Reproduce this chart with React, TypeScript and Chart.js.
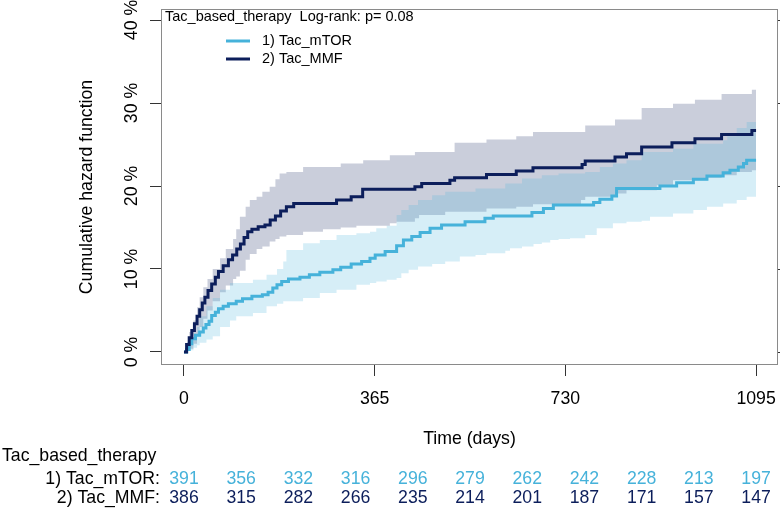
import React, { useEffect, useRef } from 'react';
import { Chart, registerables } from 'chart.js';

Chart.register(...registerables);

const FONT = '"Liberation Sans", Arial, Helvetica, sans-serif';
const MTOR_COLOR = '#46B2DA';
const MMF_COLOR = '#0C1E5B';
const MTOR_BAND = 'rgba(70,178,218,0.22)';
const MMF_BAND = 'rgba(12,30,91,0.22)';

// ---- axis ticks / labels ----
const xTickValues = [0, 365, 730, 1095];
const yTickValues = [0, 10, 20, 30, 40];
const legendTitle = 'Tac_based_therapy  Log-rank: p= 0.08';
const groupLabels = ['1) Tac_mTOR', '2) Tac_MMF'];
const strataTitle = 'Tac_based_therapy';

// ---- number at risk ----
const riskTimes = [0, 109.5, 219, 328.5, 438, 547.5, 657, 766.5, 876, 985.5, 1095];
const riskMtor = [391, 356, 332, 316, 296, 279, 262, 242, 228, 213, 197];
const riskMmf = [386, 315, 282, 266, 235, 214, 201, 187, 171, 157, 147];

// ---- 1) Tac_mTOR cumulative hazard (%) ----
const mtorTimes = [0, 5, 10, 15, 22, 30, 37, 42, 48, 53, 60, 66, 75, 85, 100, 112, 130, 150, 161, 170, 178, 187, 200, 222, 240, 260, 285, 300, 320, 340, 356, 366, 385, 407, 420, 436, 452, 471, 493, 538, 576, 592, 666, 688, 707, 784, 796, 819, 828, 911, 943, 975, 1001, 1032, 1045, 1061, 1071, 1077, 1095];
const mtorHazard = [0, 0.3, 1.0, 1.6, 2.0, 2.4, 2.9, 3.3, 3.7, 4.4, 4.8, 5.2, 5.5, 5.8, 6.1, 6.4, 6.7, 6.9, 7.2, 7.7, 8.1, 8.5, 8.8, 9.0, 9.3, 9.6, 9.9, 10.2, 10.6, 10.9, 11.3, 11.7, 12.1, 12.8, 13.5, 13.9, 14.4, 14.9, 15.3, 15.7, 16.1, 16.4, 16.8, 17.3, 17.7, 18.0, 18.4, 18.8, 19.7, 20.0, 20.4, 20.8, 21.2, 21.6, 21.9, 22.3, 22.7, 23.1, 23.1];
const mtorBandTimes = [0, 10, 18, 25, 30, 43, 55, 69, 88, 100, 132, 158, 178, 190, 196, 228, 260, 292, 330, 356, 368, 388, 407, 416, 430, 448, 475, 500, 528, 558, 579, 615, 624, 647, 669, 685, 701, 717, 739, 768, 790, 796, 821, 847, 876, 892, 936, 975, 1001, 1032, 1040, 1058, 1077, 1095];
const mtorUpper = [0, 1.0, 1.8, 3.0, 4.3, 5.5, 6.5, 7.5, 8.3, 8.3, 8.7, 9.3, 10.0, 10.9, 12.3, 13.1, 13.5, 14.1, 14.3, 14.5, 14.9, 15.2, 16.5, 17.1, 17.7, 18.3, 18.9, 19.3, 19.3, 19.7, 19.7, 20.3, 20.3, 20.9, 20.9, 21.3, 21.3, 21.5, 21.5, 21.7, 21.7, 22.3, 22.7, 23.1, 24.1, 24.1, 24.5, 25.1, 25.1, 25.5, 26.0, 27.0, 27.7, 27.7];
const mtorLower = [0, 0.2, 0.5, 0.8, 1.1, 1.5, 1.9, 3.0, 3.8, 4.3, 4.7, 5.5, 5.8, 6.1, 6.1, 6.5, 7.1, 7.5, 8.1, 8.3, 8.5, 8.7, 8.9, 9.5, 9.9, 10.3, 10.6, 10.9, 11.5, 11.7, 11.9, 12.2, 12.5, 12.7, 13.0, 13.2, 13.5, 13.6, 13.7, 14.1, 14.9, 14.9, 15.5, 15.7, 15.8, 16.3, 16.7, 17.1, 17.5, 17.9, 17.9, 18.3, 18.7, 18.7];

// ---- 2) Tac_MMF cumulative hazard (%) ----
const mmfTimes = [0, 5, 10, 15, 20, 25, 30, 35, 40, 46, 53, 60, 66, 75, 85, 93, 101, 108, 115, 122, 130, 142, 155, 165, 175, 185, 196, 210, 292, 320, 342, 442, 455, 509, 518, 579, 636, 668, 762, 768, 825, 847, 876, 934, 978, 1029, 1087, 1095];
const mmfHazard = [0, 0.9, 1.7, 2.6, 3.4, 4.3, 5.1, 5.9, 6.6, 7.4, 8.2, 9.0, 9.7, 10.4, 11.1, 11.7, 12.4, 13.0, 13.8, 14.5, 14.8, 15.1, 15.3, 15.9, 16.4, 17.0, 17.5, 17.9, 18.3, 18.7, 19.6, 19.9, 20.3, 20.7, 21.0, 21.4, 21.8, 22.2, 22.6, 23.0, 23.5, 23.9, 24.7, 25.2, 25.7, 26.2, 26.7, 26.7];
const mmfBandTimes = [0, 10, 18, 25, 30, 37, 45, 55, 69, 80, 94, 100, 107, 118, 126, 139, 150, 164, 175, 183, 196, 228, 266, 300, 330, 343, 394, 407, 442, 450, 500, 518, 579, 636, 668, 760, 768, 825, 847, 876, 905, 936, 978, 1001, 1029, 1058, 1087, 1095];
const mmfUpper = [0, 2.4, 3.8, 5.4, 6.6, 7.8, 8.8, 10.0, 11.3, 12.4, 13.6, 14.8, 16.3, 17.5, 18.3, 18.7, 19.3, 19.9, 20.8, 21.5, 21.7, 22.3, 22.3, 22.7, 22.7, 23.1, 23.7, 23.7, 24.1, 24.1, 24.1, 25.2, 25.6, 26.0, 26.5, 26.5, 27.3, 28.0, 28.0, 29.4, 29.4, 29.9, 30.4, 30.4, 31.1, 31.1, 31.6, 31.6];
const mmfLower = [0, 0.4, 1.0, 2.0, 3.0, 4.0, 5.0, 6.1, 7.2, 8.0, 8.8, 9.1, 9.8, 11.1, 11.8, 12.4, 12.7, 13.3, 13.6, 13.9, 14.1, 14.5, 14.8, 15.0, 15.2, 15.2, 15.5, 15.7, 16.1, 16.5, 16.9, 16.9, 17.3, 17.5, 17.8, 18.3, 18.7, 19.1, 19.5, 19.5, 20.1, 20.7, 20.7, 21.0, 21.3, 21.7, 21.9, 21.9];

const pts = (xs: number[], ys: number[]) => xs.map((x, i) => ({ x, y: ys[i] }));

const decorations = {
  id: 'decorations',
  afterDraw(chart: any) {
    const { ctx, chartArea: a } = chart;
    const xs = chart.scales.x;
    const ys = chart.scales.y;
    ctx.save();
    // frame
    ctx.strokeStyle = '#8a8a8a';
    ctx.lineWidth = 1;
    ctx.strokeRect(Math.round(a.left) + 0.5, Math.round(a.top) + 0.5, Math.round(a.right - a.left) - 1, Math.round(a.bottom - a.top) - 1);
    // right-side ticks
    ctx.strokeStyle = '#333';
    ctx.beginPath();
    yTickValues.forEach((v) => {
      const py = Math.round(ys.getPixelForValue(v)) + 0.5;
      ctx.moveTo(a.right, py);
      ctx.lineTo(a.right + 11, py);
    });
    ctx.stroke();

    ctx.fillStyle = '#000';
    ctx.font = `17.7px ${FONT}`;
    ctx.textAlign = 'center';
    ctx.textBaseline = 'middle';
    // y tick labels (rotated)
    yTickValues.forEach((v) => {
      ctx.save();
      ctx.translate(132, ys.getPixelForValue(v));
      ctx.rotate(-Math.PI / 2);
      ctx.fillText(`${v} %`, 0, 0);
      ctx.restore();
    });
    // y title
    ctx.save();
    ctx.translate(87, (a.top + a.bottom) / 2);
    ctx.rotate(-Math.PI / 2);
    ctx.fillText('Cumulative hazard function', 0, 0);
    ctx.restore();
    // x tick labels
    xs.ticks.forEach((t: any) => {
      ctx.fillText(String(t.value), xs.getPixelForValue(t.value), 399);
    });
    // x title
    ctx.fillText('Time (days)', (a.left + a.right) / 2, 439);

    // legend
    ctx.font = `14.5px ${FONT}`;
    ctx.textAlign = 'left';
    ctx.fillText(legendTitle, 165, 17);
    const legColors = [MTOR_COLOR, MMF_COLOR];
    const legY = [41, 59];
    groupLabels.forEach((lab, i) => {
      ctx.strokeStyle = legColors[i];
      ctx.lineWidth = 3;
      ctx.beginPath();
      ctx.moveTo(226, legY[i]);
      ctx.lineTo(250, legY[i]);
      ctx.stroke();
      ctx.fillStyle = '#000';
      ctx.fillText(lab, 262, legY[i]);
    });

    // risk table
    ctx.font = `17.7px ${FONT}`;
    ctx.fillStyle = '#000';
    ctx.textAlign = 'left';
    ctx.fillText(strataTitle, 2, 456);
    const rowY = [479, 498];
    const rows = [riskMtor, riskMmf];
    groupLabels.forEach((lab, i) => {
      ctx.textAlign = 'right';
      ctx.fillStyle = '#000';
      ctx.fillText(lab + ':', 160, rowY[i]);
      ctx.textAlign = 'center';
      ctx.fillStyle = legColors[i];
      rows[i].forEach((n, j) => {
        ctx.fillText(String(n), xs.getPixelForValue(riskTimes[j]), rowY[i]);
      });
    });
    ctx.restore();
  },
};

export default function App() {
  const ref = useRef<HTMLCanvasElement>(null);
  useEffect(() => {
    document.body.style.margin = '0';
    const canvas = ref.current!;
    const chart = new Chart(canvas, {
      type: 'line',
      data: {
        datasets: [
          {
            label: groupLabels[1],
            data: pts(mmfTimes, mmfHazard),
            borderColor: MMF_COLOR,
            borderWidth: 3,
            stepped: 'before',
            pointRadius: 0,
            fill: false,
          },
          {
            label: groupLabels[0],
            data: pts(mtorTimes, mtorHazard),
            borderColor: MTOR_COLOR,
            borderWidth: 3,
            stepped: 'before',
            pointRadius: 0,
            fill: false,
          },
          {
            label: 'mtor lower',
            data: pts(mtorBandTimes, mtorLower),
            borderColor: 'transparent',
            borderWidth: 0,
            stepped: 'before',
            pointRadius: 0,
            fill: false,
          },
          {
            label: 'mtor upper',
            data: pts(mtorBandTimes, mtorUpper),
            borderColor: 'transparent',
            backgroundColor: MTOR_BAND,
            borderWidth: 0,
            stepped: 'before',
            pointRadius: 0,
            fill: '-1',
          },
          {
            label: 'mmf lower',
            data: pts(mmfBandTimes, mmfLower),
            borderColor: 'transparent',
            borderWidth: 0,
            stepped: 'before',
            pointRadius: 0,
            fill: false,
          },
          {
            label: 'mmf upper',
            data: pts(mmfBandTimes, mmfUpper),
            borderColor: 'transparent',
            backgroundColor: MMF_BAND,
            borderWidth: 0,
            stepped: 'before',
            pointRadius: 0,
            fill: '-1',
          },
        ],
      },
      options: {
        animation: false,
        responsive: false,
        devicePixelRatio: 1,
        layout: { padding: { top: 9, right: 2, left: 0, bottom: 0 } },
        plugins: { legend: { display: false }, tooltip: { enabled: false } },
        scales: {
          x: {
            type: 'linear',
            min: -44,
            max: 1137,
            afterBuildTicks: (s: any) => { s.ticks = xTickValues.map((v) => ({ value: v })); },
            afterFit: (s: any) => { s.height = 144; },
            ticks: { display: false },
            grid: { drawOnChartArea: false, drawTicks: true, tickLength: 11, color: '#333', lineWidth: 1 },
            border: { display: false },
          },
          y: {
            type: 'linear',
            min: -1.57,
            max: 41.33,
            afterBuildTicks: (s: any) => { s.ticks = yTickValues.map((v) => ({ value: v })); },
            afterFit: (s: any) => { s.width = 161; },
            ticks: { display: false },
            grid: { drawOnChartArea: false, drawTicks: true, tickLength: 11, color: '#333', lineWidth: 1 },
            border: { display: false },
          },
        },
      },
      plugins: [decorations],
    });
    return () => chart.destroy();
  }, []);
  return (
    <div style={{ position: 'absolute', left: 0, top: 0, width: 780, height: 509, background: '#fff' }}>
      <canvas ref={ref} width={780} height={509} style={{ width: 780, height: 509, display: 'block' }} />
    </div>
  );
}
